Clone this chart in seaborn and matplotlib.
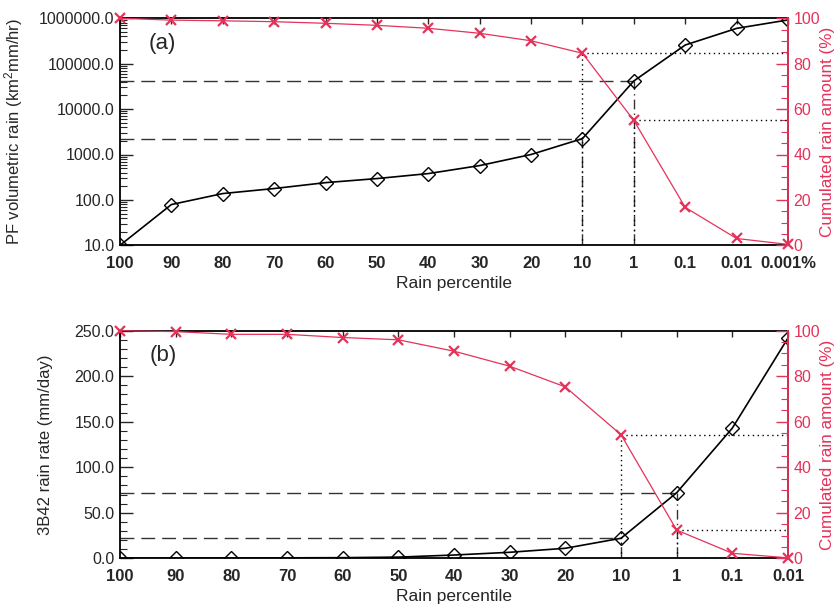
import numpy as np
import pandas as pd
import matplotlib
matplotlib.use("Agg")
import matplotlib.pyplot as plt
import matplotlib.ticker as mticker
import seaborn as sns

# Rain percentile bins
pct_a = ["100", "90", "80", "70", "60", "50", "40", "30", "20", "10",
         "1", "0.1", "0.01", "0.001%"]
pct_b = ["100", "90", "80", "70", "60", "50", "40", "30", "20", "10",
         "1", "0.1", "0.01"]

# (a) PF volumetric rain (km^2 mm/hr) and cumulated rain amount (%)
vol_rain = [10, 79, 138, 178, 240, 295, 380, 570, 1000, 2240,
            41700, 258000, 600000, 920000]
cum_a = [100, 99.2, 98.9, 98.5, 97.8, 96.9, 95.6, 93.4, 90.1, 84.6,
         55.0, 16.7, 3.0, 0.4]

# (b) 3B42 rain rate (mm/day) and cumulated rain amount (%)
rate_b = [0, 0.3, 0.4, 0.5, 0.7, 1.3, 3.6, 6.6, 11, 22, 72, 143, 242]
cum_b = [100, 99.6, 98.4, 98.4, 97.0, 96.0, 91.0, 84.4, 75.3, 54.3,
         12.4, 2.2, 0.2]

RED = "#E5325A"
sns.set_style("white")
plt.rcParams["font.family"] = ["Liberation Sans", "DejaVu Sans"]
plt.rcParams["mathtext.default"] = "regular"

fig = plt.figure(figsize=(8.37, 6.08), dpi=100)
W, H = 837, 608


def add_axes(left, top, right, bottom):
    return fig.add_axes([left / W, 1 - bottom / H, (right - left) / W,
                         (bottom - top) / H])


def draw_panel(ax, labels, main, cum, ylabel, tag, log):
    pos = np.arange(len(labels))
    df = pd.DataFrame({"pos": pos, "main": main, "cum": cum})

    sns.lineplot(data=df, x="pos", y="main", ax=ax, color="black",
                 linewidth=1.2, marker="D", markersize=7.5,
                 markerfacecolor="none", markeredgecolor="black",
                 markeredgewidth=1.0, zorder=3)
    if log:
        ax.set_yscale("log")
        ax.set_ylim(10, 1e6)
        ax.yaxis.set_major_locator(mticker.LogLocator(base=10, numticks=10))
        ax.yaxis.set_minor_locator(mticker.LogLocator(
            base=10, subs=np.arange(2, 10), numticks=20))
        ax.yaxis.set_minor_formatter(mticker.NullFormatter())
    else:
        ax.set_ylim(0, 250)
        ax.yaxis.set_major_locator(mticker.MultipleLocator(50))
        ax.yaxis.set_minor_locator(mticker.MultipleLocator(10))
    ax.yaxis.set_major_formatter(mticker.FormatStrFormatter("%.1f"))
    ax.set_xlim(0, len(labels) - 1)
    ax.set_xticks(pos)
    ax.set_xticklabels(labels, fontweight="bold", fontsize=12)
    ax.set_xlabel("Rain percentile", fontsize=12.5, labelpad=3)
    ax.set_ylabel(ylabel, fontsize=12)
    ax.tick_params(axis="x", direction="in", length=4, width=1,
                   top=True, pad=8)
    ax.tick_params(axis="y", which="major", direction="in", length=9,
                   width=1, labelsize=11.5, pad=4)
    ax.tick_params(axis="y", which="minor", direction="in", length=5,
                   width=0.8)
    for s in ax.spines.values():
        s.set_linewidth(1.3)
        s.set_color("black")

    ax2 = ax.twinx()
    sns.lineplot(data=df, x="pos", y="cum", ax=ax2, color=RED,
                 linewidth=0.9, marker="x", markersize=7,
                 markeredgecolor=RED, markeredgewidth=1.6, zorder=3,
                 clip_on=False)
    ax2.set_ylim(0, 100)
    ax2.yaxis.set_major_locator(mticker.MultipleLocator(20))
    ax2.yaxis.set_minor_locator(mticker.MultipleLocator(5))
    ax2.tick_params(axis="y", which="major", direction="in", length=9,
                    width=1, colors=RED, labelsize=11.5, pad=4)
    ax2.tick_params(axis="y", which="minor", direction="in", length=5,
                    width=0.8, colors=RED)
    ax2.set_ylabel("Cumulated rain amount (%)", color=RED, fontsize=12.3)
    ax2.yaxis.set_label_coords(1.048, 0.5)
    ax2.spines["right"].set_color(RED)
    ax2.spines["right"].set_linewidth(1.3)
    for k in ("left", "top", "bottom"):
        ax2.spines[k].set_visible(False)

    # Reference lines at the 10 and 1 percentiles
    i10, i1 = labels.index("10"), labels.index("1")
    ybot = ax.get_ylim()[0]
    for i in (i10, i1):
        ax.hlines(main[i], 0, pos[i], colors="#333333", linewidth=1.0,
                  linestyles=(0, (10, 5)), zorder=2)
        ax.vlines(pos[i], ybot, main[i], colors="#333333", linewidth=1.0,
                  linestyles=(0, (7, 3, 1, 3)), zorder=2)
        ax2.vlines(pos[i], 0, cum[i], colors="black", linewidth=1.0,
                   linestyles=(0, (1, 2.5)), zorder=2)
        ax2.hlines(cum[i], pos[i], pos[-1], colors="black", linewidth=1.0,
                   linestyles=(0, (1, 2.5)), zorder=2)

    ax.text(0.064, 0.89, tag, transform=ax.transAxes, fontsize=16,
            ha="center", va="center")
    return ax, ax2


ax_a = add_axes(120, 18.3, 788, 245.3)
draw_panel(ax_a, pct_a, vol_rain, cum_a,
           "PF volumetric rain (km$^{2}$mm/hr)", "(a)", log=True)
ax_a.yaxis.set_label_coords(-0.142, 0.5)

ax_b = add_axes(120, 330.7, 788, 558.3)
draw_panel(ax_b, pct_b, rate_b, cum_b,
           "3B42 rain rate (mm/day)", "(b)", log=False)
ax_b.yaxis.set_label_coords(-0.10, 0.5)

fig.savefig("out.png", dpi=100)
